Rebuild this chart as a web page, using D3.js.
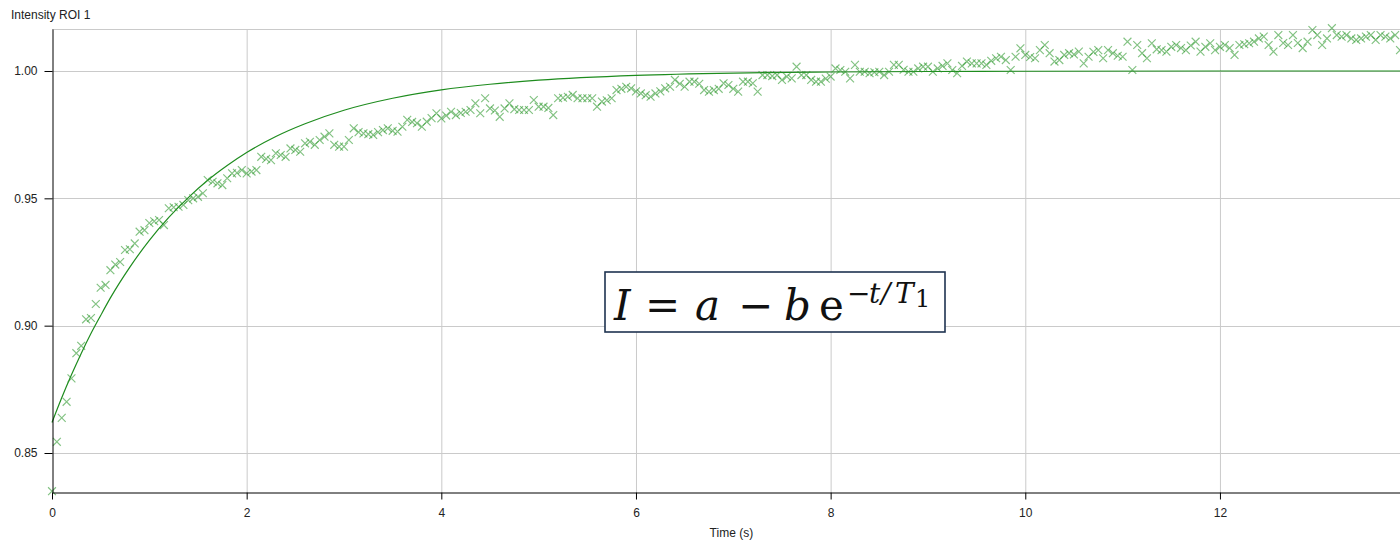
<!DOCTYPE html>
<html>
<head>
<meta charset="utf-8">
<script src="https://cdn.jsdelivr.net/npm/d3@7"></script>
<style>
  body { margin: 0; background: #fff; }
  svg { display: block; }
  .tick text { font-family: "Liberation Sans", Arial, sans-serif; font-size: 12px; fill: #222; }
</style>
</head>
<body>
<div id="chart"></div>
<script>
// measured intensity, one sample every dt seconds from t0
var t0 = 0, dt = 0.05;
var intensity = [
  0.8350, 0.8544, 0.8638, 0.8701, 0.8793, 0.8892, 0.8921, 0.9025, 0.9030, 0.9085,
  0.9149, 0.9160, 0.9218, 0.9240, 0.9250, 0.9297, 0.9300, 0.9323, 0.9369, 0.9375,
  0.9403, 0.9410, 0.9415, 0.9395, 0.9461, 0.9465, 0.9467, 0.9474, 0.9493, 0.9500,
  0.9506, 0.9520, 0.9572, 0.9565, 0.9559, 0.9552, 0.9579, 0.9598, 0.9600, 0.9611,
  0.9598, 0.9605, 0.9611, 0.9663, 0.9655, 0.9650, 0.9677, 0.9670, 0.9663, 0.9696,
  0.9690, 0.9683, 0.9716, 0.9722, 0.9710, 0.9729, 0.9742, 0.9755, 0.9710, 0.9703,
  0.9703, 0.9729, 0.9775, 0.9760, 0.9755, 0.9752, 0.9749, 0.9760, 0.9768, 0.9775,
  0.9765, 0.9762, 0.9781, 0.9808, 0.9800, 0.9795, 0.9781, 0.9801, 0.9815, 0.9834,
  0.9814, 0.9825, 0.9840, 0.9827, 0.9835, 0.9840, 0.9847, 0.9873, 0.9834, 0.9893,
  0.9853, 0.9845, 0.9820, 0.9853, 0.9873, 0.9850, 0.9847, 0.9847, 0.9847, 0.9886,
  0.9860, 0.9860, 0.9855, 0.9827, 0.9893, 0.9895, 0.9899, 0.9906, 0.9893, 0.9893,
  0.9893, 0.9893, 0.9860, 0.9880, 0.9885, 0.9893, 0.9925, 0.9930, 0.9938, 0.9932,
  0.9920, 0.9912, 0.9905, 0.9899, 0.9912, 0.9920, 0.9932, 0.9938, 0.9965, 0.9950,
  0.9938, 0.9958, 0.9958, 0.9950, 0.9925, 0.9919, 0.9925, 0.9930, 0.9952, 0.9945,
  0.9930, 0.9919, 0.9958, 0.9958, 0.9952, 0.9919, 0.9984, 0.9984, 0.9980, 0.9984,
  0.9965, 0.9978, 0.9971, 1.0017, 0.9984, 0.9984, 0.9965, 0.9958, 0.9958, 0.9970,
  0.9978, 1.0010, 1.0004, 0.9997, 0.9971, 1.0024, 0.9997, 0.9997, 0.9991, 0.9995,
  0.9997, 0.9984, 0.9997, 1.0024, 1.0024, 1.0005, 0.9997, 0.9997, 1.0010, 1.0017,
  1.0017, 0.9997, 1.0010, 1.0020, 1.0030, 1.0004, 0.9991, 1.0020, 1.0037, 1.0030,
  1.0030, 1.0030, 1.0024, 1.0040, 1.0050, 1.0056, 1.0043, 1.0004, 1.0056, 1.0089,
  1.0063, 1.0055, 1.0050, 1.0082, 1.0102, 1.0070, 1.0037, 1.0043, 1.0063, 1.0070,
  1.0065, 1.0076, 1.0030, 1.0056, 1.0075, 1.0082, 1.0050, 1.0082, 1.0070, 1.0060,
  1.0056, 1.0115, 1.0004, 1.0102, 1.0070, 1.0050, 1.0109, 1.0085, 1.0082, 1.0076,
  1.0095, 1.0102, 1.0090, 1.0082, 1.0100, 1.0115, 1.0076, 1.0095, 1.0109, 1.0082,
  1.0095, 1.0102, 1.0090, 1.0063, 1.0102, 1.0105, 1.0109, 1.0115, 1.0128, 1.0135,
  1.0102, 1.0076, 1.0141, 1.0110, 1.0102, 1.0141, 1.0110, 1.0090, 1.0115, 1.0161,
  1.0141, 1.0102, 1.0128, 1.0168, 1.0141, 1.0135, 1.0141, 1.0128, 1.0122, 1.0128,
  1.0135, 1.0141, 1.0122, 1.0141, 1.0135, 1.0128, 1.0141, 1.0082
];

// fitted curve
var fitTime  = [0, 0.1, 0.2, 0.3, 0.4, 0.5, 0.6, 0.8, 1.0, 1.2, 1.4, 1.6, 1.8, 2.0, 2.3, 2.6,
                3.0, 3.5, 4.0, 4.5, 5, 6, 7, 8, 9, 10, 12, 13.85];
var fitValue = [0.8620, 0.8717, 0.8807, 0.8891, 0.8969, 0.9040, 0.9109, 0.9230, 0.9335, 0.9425,
                0.9503, 0.9571, 0.9629, 0.9680, 0.9743, 0.9793, 0.9846, 0.9893, 0.9926, 0.9948,
                0.9964, 0.9983, 0.9992, 0.9996, 0.9998, 0.9999, 1.0000, 1.0000];

var xTicks = [0, 2, 4, 6, 8, 10, 12];
var yTicks = [0.85, 0.90, 0.95, 1.00];
var yLabel = "Intensity ROI 1";
var xLabel = "Time (s)";

var width = 1400, height = 541;
var margin = { top: 29, right: 0, bottom: 49, left: 52 };
var innerW = width - margin.left - margin.right,
    innerH = height - margin.top - margin.bottom;

var points = intensity.map(function (v, i) {
  return { t: t0 + i * dt, v: v };
});

var x = d3.scaleLinear().domain([0, 13.85]).range([0, innerW]);
var y = d3.scaleLinear().domain([0.83469, 1.01649]).range([innerH, 0]);

var svg = d3.select("#chart").append("svg")
    .attr("width", width)
    .attr("height", height);

var g = svg.append("g").attr("transform", "translate(" + margin.left + "," + margin.top + ")");

// grid
g.append("g").selectAll("line.vg")
  .data(xTicks.slice(1)).enter().append("line")
    .attr("x1", function (d) { return x(d) + 0.5; })
    .attr("x2", function (d) { return x(d) + 0.5; })
    .attr("y1", 0).attr("y2", innerH)
    .attr("stroke", "#cacaca");
g.append("g").selectAll("line.hg")
  .data(yTicks).enter().append("line")
    .attr("x1", 0).attr("x2", innerW)
    .attr("y1", function (d) { return Math.round(y(d)) + 0.5; })
    .attr("y2", function (d) { return Math.round(y(d)) + 0.5; })
    .attr("stroke", "#cacaca");
g.append("line")
    .attr("x1", 0).attr("x2", innerW)
    .attr("y1", 0.5).attr("y2", 0.5)
    .attr("stroke", "#cacaca");

// fit line
var line = d3.line()
    .x(function (d) { return x(d[0]); })
    .y(function (d) { return y(d[1]); })
    .curve(d3.curveMonotoneX);

g.append("path")
    .datum(d3.zip(fitTime, fitValue))
    .attr("d", line)
    .attr("fill", "none")
    .attr("stroke", "#1e8c1e")
    .attr("stroke-width", 1.2);

// samples
var cross = d3.symbol(d3.symbolTimes, 42);
g.append("g").selectAll("path")
  .data(points).enter().append("path")
    .attr("d", cross)
    .attr("transform", function (d) { return "translate(" + x(d.t) + "," + y(d.v) + ")"; })
    .attr("fill", "none")
    .attr("stroke", "#2f9a2f")
    .attr("stroke-opacity", 0.6)
    .attr("stroke-width", 1.15);

// axes
var xAxis = g.append("g")
    .attr("transform", "translate(0," + (innerH + 0.5) + ")")
    .call(d3.axisBottom(x).tickValues(xTicks).tickFormat(d3.format("d")).tickSize(7).tickSizeOuter(0).tickPadding(9));
var yAxis = g.append("g")
    .attr("transform", "translate(0.5,0)")
    .call(d3.axisLeft(y).tickValues(yTicks).tickFormat(d3.format(".2f")).tickSize(8).tickSizeOuter(0).tickPadding(7));
[xAxis, yAxis].forEach(function (a) {
  a.select(".domain").attr("stroke", "#000");
  a.selectAll(".tick line").attr("stroke", "#000");
});

svg.append("text")
    .attr("x", 11).attr("y", 19)
    .attr("font-family", "Liberation Sans, Arial, sans-serif")
    .attr("font-size", 12)
    .attr("fill", "#222")
    .text(yLabel);

svg.append("text")
    .attr("x", margin.left + x(6.98)).attr("y", 537)
    .attr("text-anchor", "middle")
    .attr("font-family", "Liberation Sans, Arial, sans-serif")
    .attr("font-size", 12)
    .attr("fill", "#222")
    .text(xLabel);

// formula box
var box = svg.append("g").attr("transform", "translate(605,272)");
box.append("rect")
    .attr("width", 340).attr("height", 60)
    .attr("fill", "#fff")
    .attr("stroke", "#1f3350")
    .attr("stroke-width", 1.6);

var f = box.append("text")
    .attr("y", 48)
    .attr("font-family", "DejaVu Serif, Liberation Serif, serif")
    .attr("font-size", 42)
    .attr("fill", "#111");
f.append("tspan").attr("x", 9).attr("font-style", "italic").text("I");
f.append("tspan").attr("x", 40).text("=");
f.append("tspan").attr("x", 90).attr("font-style", "italic").text("a");
f.append("tspan").attr("x", 133).text("\u2212");
f.append("tspan").attr("x", 179).attr("font-style", "italic").text("b");
f.append("tspan").attr("x", 214).text("e");
f.append("tspan").attr("x", 242).attr("dy", -17).attr("font-size", 28).text("\u2212");
f.append("tspan").attr("x", 264).attr("font-size", 28).attr("font-style", "italic").text("t");
f.append("tspan").attr("x", 276).attr("font-size", 28).attr("font-style", "italic").text("/");
f.append("tspan").attr("x", 290).attr("font-size", 28).attr("font-style", "italic").text("T");
f.append("tspan").attr("x", 310).attr("dy", 4).attr("font-size", 24).text("1");
</script>
</body>
</html>
